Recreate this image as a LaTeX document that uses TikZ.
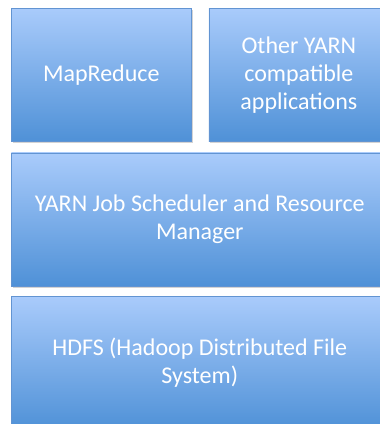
\documentclass[tikz,border=0pt]{standalone}
\usepackage{fontspec}
\setmainfont{Carlito}
\usetikzlibrary{positioning,shadows}
\definecolor{boxtop}{RGB}{169,203,251}
\definecolor{boxbottom}{RGB}{79,145,215}
\definecolor{boxline}{RGB}{98,148,210}
\tikzset{
  layer/.style={
    draw=boxline,
    line width=.6pt,
    top color=boxtop,
    bottom color=boxbottom,
    drop shadow={shadow xshift=1.5pt,shadow yshift=-2pt,opacity=.35},
    align=center,
    text=white,
    font=\fontsize{24}{28}\selectfont,
    inner sep=0pt,
    minimum height=133pt
  },
  half/.style={
    layer,
    minimum width=180pt
  },
  full/.style={
    layer,
    minimum width=377pt
  }
}

\begin{document}
\begin{tikzpicture}[node distance=11pt and 17pt]
\useasboundingbox (0,0) rectangle (380pt,-424pt);
\clip (0,0) rectangle (380pt,-424pt);
\node[half, anchor=north west] (mapred) at (11pt,-8pt) {MapReduce};
\node[half, right=of mapred] (otherapps) {Other YARN\\compatible\\applications};
\node[full, below=11pt of mapred.south west, anchor=north west] (yarn) {YARN Job Scheduler and Resource\\Manager};
\node[full, below=10pt of yarn.south west, anchor=north west] (hdfs) {HDFS (Hadoop Distributed File\\System)};
\end{tikzpicture}
\end{document}
